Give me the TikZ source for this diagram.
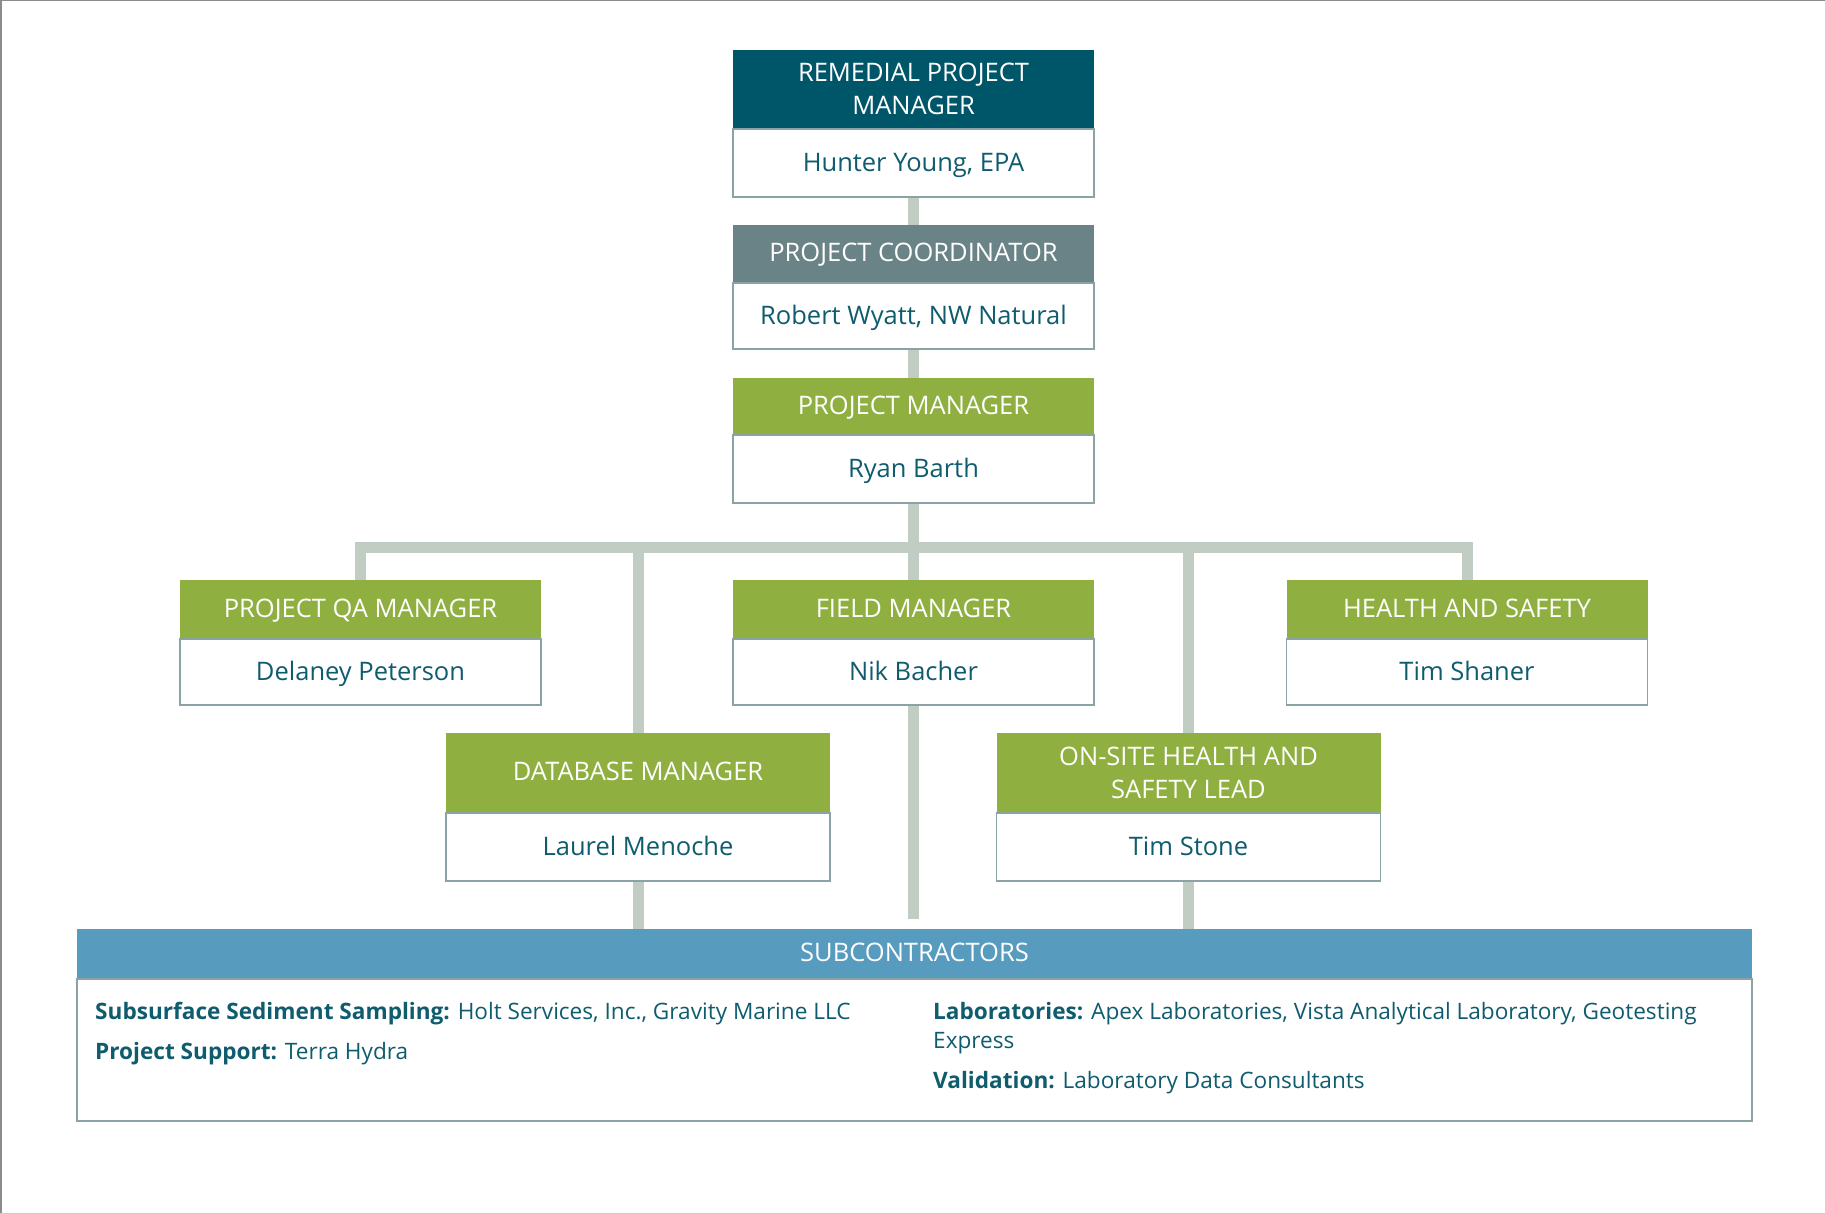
\documentclass[tikz,border=0pt]{standalone}
\usepackage{fontspec}
\setmainfont{Open Sans}
\usetikzlibrary{backgrounds}
\definecolor{dteal}{HTML}{005669}
\definecolor{slate}{HTML}{6A8386}
\definecolor{lgreen}{HTML}{8FB040}
\definecolor{sblue}{HTML}{579BBF}
\definecolor{conn}{HTML}{C1CCC3}
\definecolor{bord}{HTML}{8CA3A6}
\definecolor{txt}{HTML}{0F5C6E}
\begin{document}
\begin{tikzpicture}[x=1pt,y=-1pt,
  hdr/.style={anchor=north, inner sep=0pt, text=white, align=center,
    font=\fontsize{25.5}{33}\selectfont},
  one/.style={text height=19pt, text depth=3pt},
  body/.style={anchor=north, inner sep=0pt, draw=bord, line width=1.3pt, fill=white,
    text=txt, font=\fontsize{25.5}{33}\selectfont, text height=19pt, text depth=2pt},
  link/.style={draw=conn, line width=11pt},
  sub/.style={anchor=base west, inner sep=0pt, text=txt,
    font=\fontsize{22.6}{29}\selectfont}]
\useasboundingbox (0,0) rectangle (1825,1214);
\draw[gray!90, line width=1.5pt] (0.75,1214) -- (0.75,0.75) -- (1825,0.75);
\draw[gray!40, line width=1.5pt] (0,1213.25) -- (1825,1213.25);

% top column
\node[hdr, fill=dteal, minimum width=361pt, minimum height=78pt] (rpmH) at (913.5,50) {REMEDIAL PROJECT\\MANAGER};
\node[body, minimum width=361pt, minimum height=68pt] (rpmB) at (rpmH.south) {Hunter Young, EPA};
\node[hdr, one, fill=slate, minimum width=361pt, minimum height=57pt] (pcH) at (913.5,225) {PROJECT COORDINATOR};
\node[body, minimum width=361pt, minimum height=66pt] (pcB) at (pcH.south) {Robert Wyatt, NW Natural};
\node[hdr, one, fill=lgreen, minimum width=361pt, minimum height=56pt] (pmH) at (913.5,378) {PROJECT MANAGER};
\node[body, minimum width=361pt, minimum height=68pt] (pmB) at (pmH.south) {Ryan Barth};

% second row
\node[hdr, one, fill=lgreen, minimum width=361pt, minimum height=58pt] (qaH) at (360.5,580) {PROJECT QA MANAGER};
\node[body, minimum width=361pt, minimum height=66pt] (qaB) at (qaH.south) {Delaney Peterson};
\node[hdr, one, fill=lgreen, minimum width=361pt, minimum height=58pt] (fH) at (913.5,580) {FIELD MANAGER};
\node[body, minimum width=361pt, minimum height=66pt] (fB) at (fH.south) {Nik Bacher};
\node[hdr, one, fill=lgreen, minimum width=361pt, minimum height=58pt] (hsH) at (1467,580) {HEALTH AND SAFETY};
\node[body, minimum width=361pt, minimum height=66pt] (hsB) at (hsH.south) {Tim Shaner};

% third row
\node[hdr, one, fill=lgreen, minimum width=384pt, minimum height=79pt] (dbH) at (638,733) {DATABASE MANAGER};
\node[body, minimum width=384pt, minimum height=68pt] (dbB) at (dbH.south) {Laurel Menoche};
\node[hdr, fill=lgreen, minimum width=384pt, minimum height=79pt] (osH) at (1188.5,733) {ON-SITE HEALTH AND\\SAFETY LEAD};
\node[body, minimum width=384pt, minimum height=68pt] (osB) at (osH.south) {Tim Stone};

% subcontractors
\node[hdr, one, fill=sblue, minimum width=1675pt, minimum height=49pt] (scH) at (914.5,929) {SUBCONTRACTORS};
\node[body, minimum width=1675pt, minimum height=142pt] (scB) at (scH.south) {};
\node[sub] (scL1) at (95,1019) {\textbf{Subsurface Sediment Sampling:} Holt Services, Inc., Gravity Marine LLC};
\node[sub] (scL2) at (95,1059) {\textbf{Project Support:} Terra Hydra};
\node[sub] (scR1) at (933,1019) {\vtop{\hbox{\textbf{Laboratories:} Apex Laboratories, Vista Analytical Laboratory, Geotesting}\hbox{Express}}};
\node[sub] (scR2) at (933,1088) {\textbf{Validation:} Laboratory Data Consultants};

\coordinate (bar) at (913.5,547);
\coordinate (fEnd) at (913.5,919);

\begin{scope}[on background layer]
\draw[link] (rpmB.south) -- (pcH.north);
\draw[link] (pcB.south) -- (pmH.north);
\draw[link] (pmB.south) -- (fH.north);
\draw[link] (qaH.north) -- (qaH.north |- bar) -- (hsH.north |- bar) -- (hsH.north);
\draw[link] (dbH.north) -- (dbH.north |- bar);
\draw[link] (osH.north) -- (osH.north |- bar);
\draw[link] (fB.south) -- (fEnd);
\draw[link] (dbB.south) -- (dbB.south |- scH.north);
\draw[link] (osB.south) -- (osB.south |- scH.north);
\end{scope}
\end{tikzpicture}
\end{document}
